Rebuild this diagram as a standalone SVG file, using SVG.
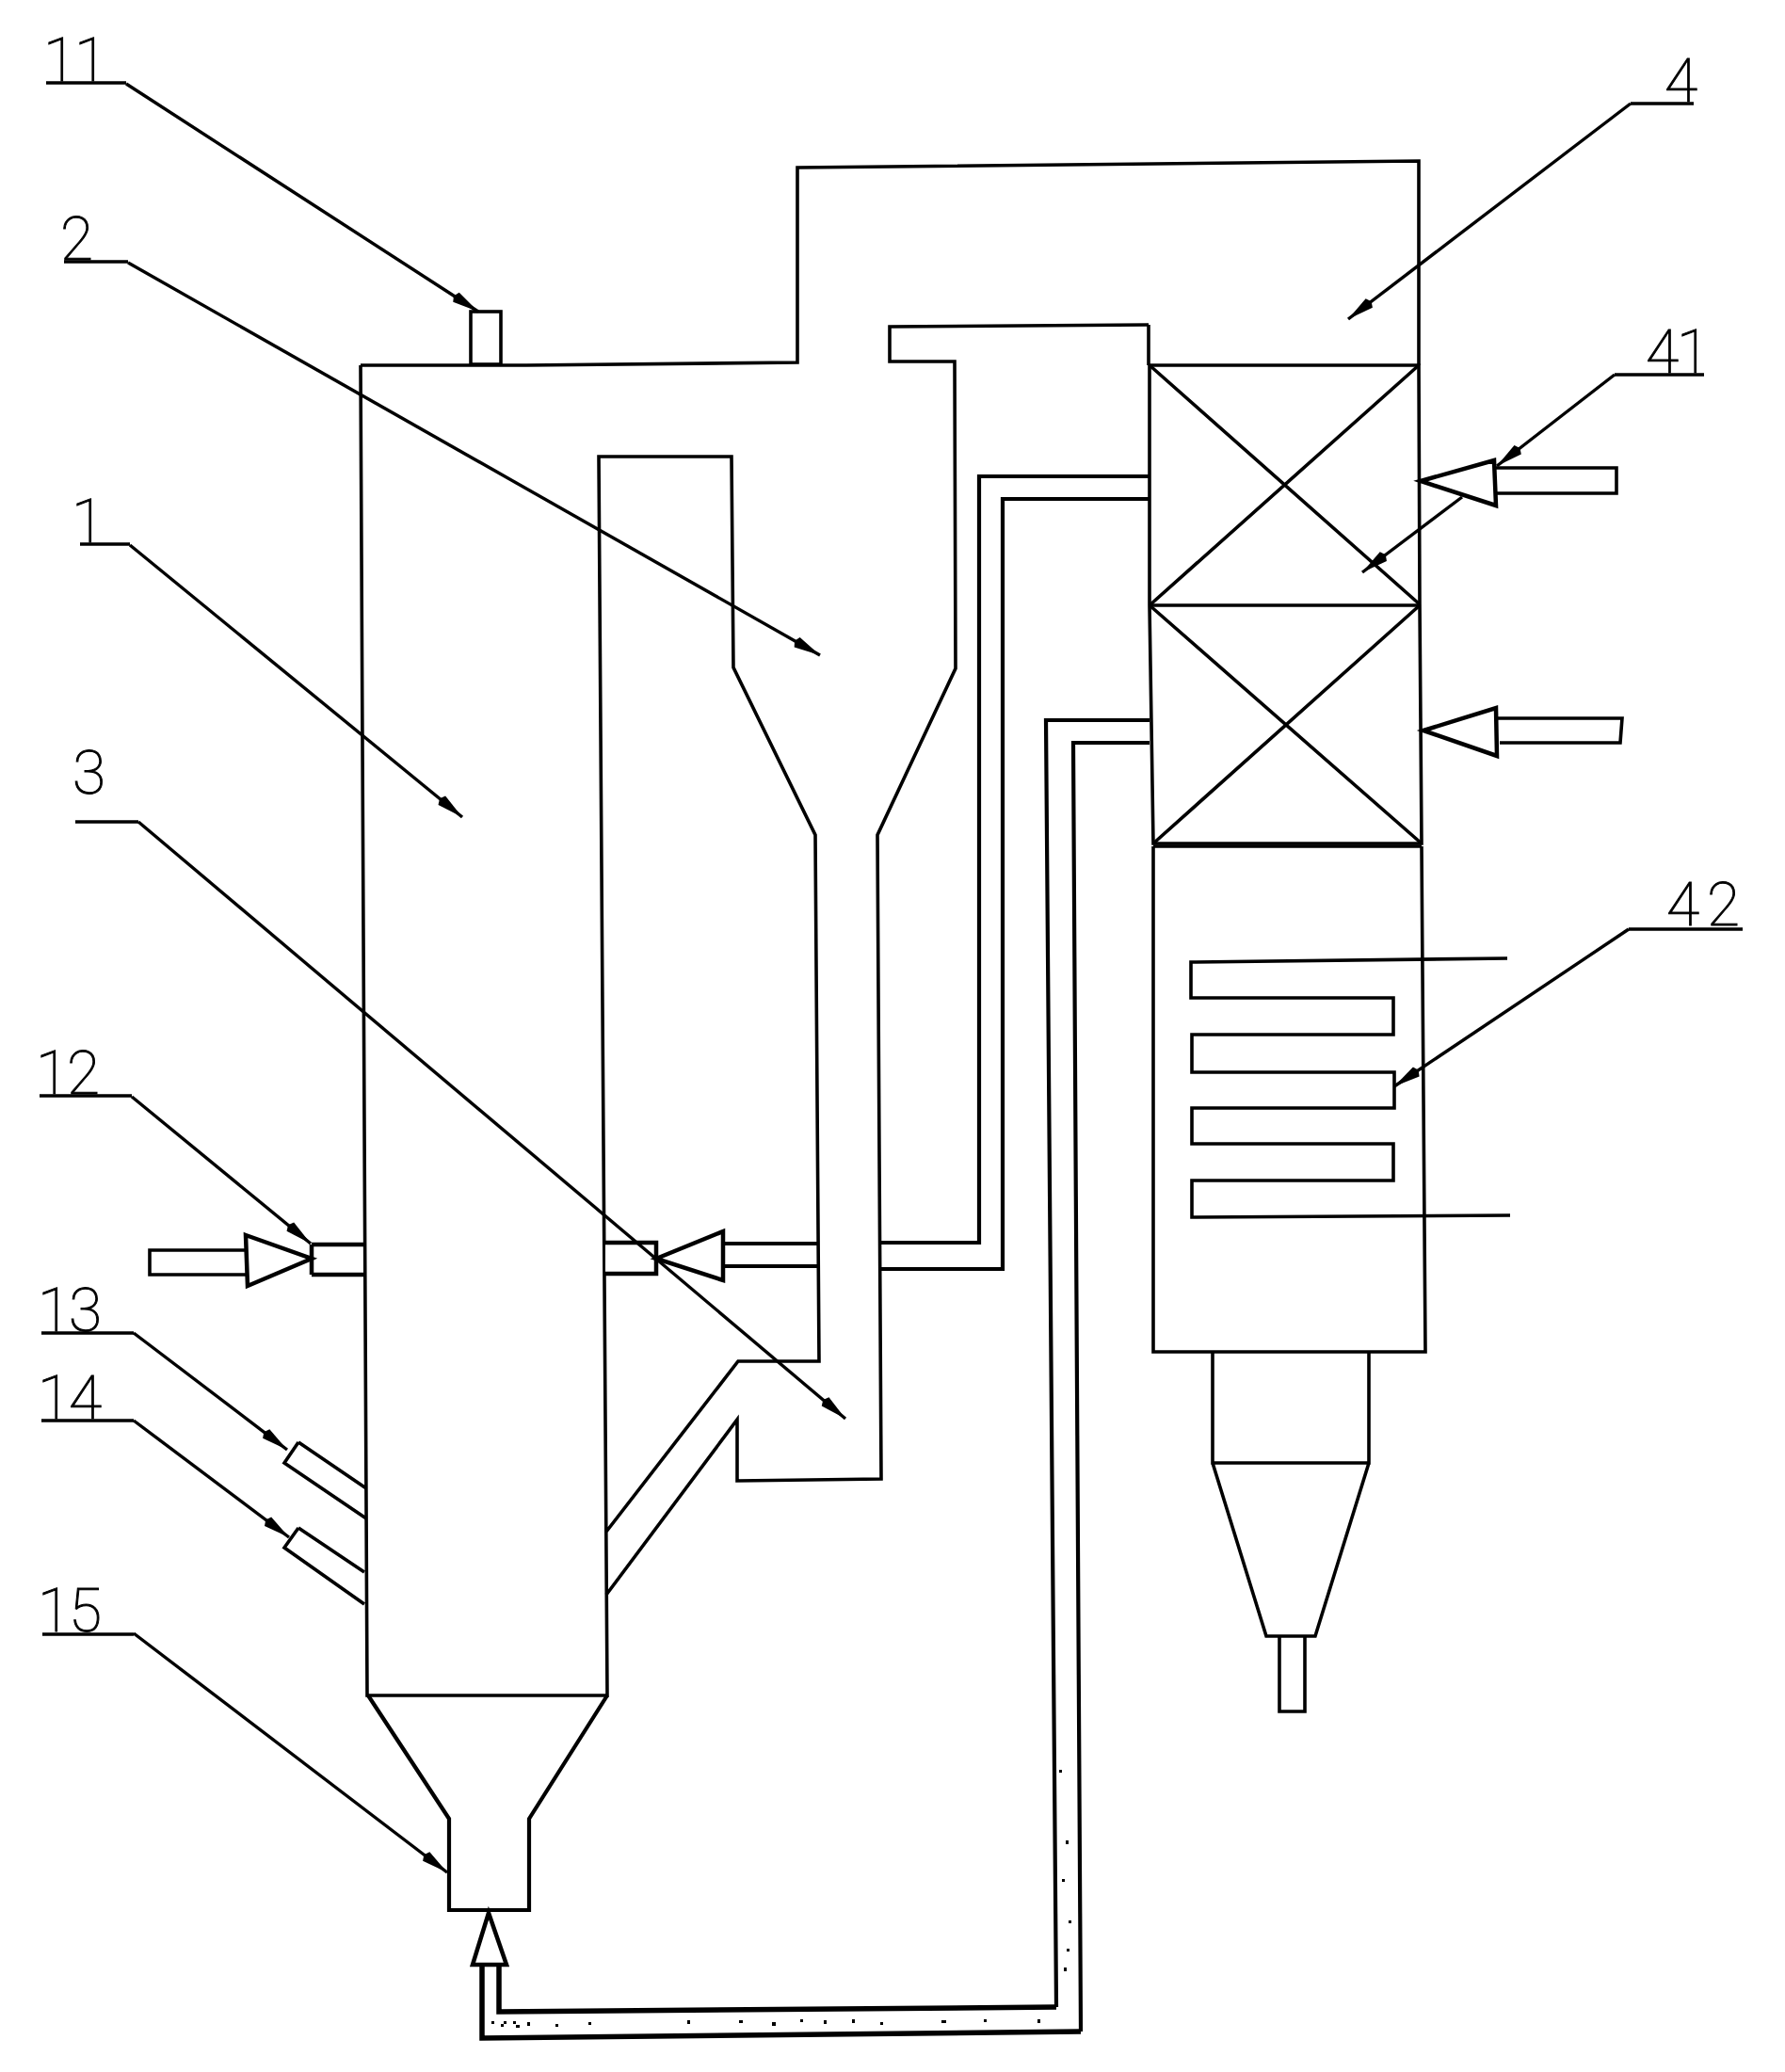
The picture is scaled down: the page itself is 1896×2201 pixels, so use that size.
<svg xmlns="http://www.w3.org/2000/svg" width="1896" height="2201" viewBox="0 0 1896 2201">
<style>
.s{fill:none;stroke:#000;stroke-width:3.6;stroke-linejoin:miter}
.a{fill:#fff;stroke:#000;stroke-width:4.5;stroke-linejoin:miter}
.t{fill:none;stroke:#000;stroke-width:4.2}
.b{fill:none;stroke:#000;stroke-width:5.5}
.l{fill:none;stroke:#000;stroke-width:3.4;marker-end:url(#h)}
.u{fill:none;stroke:#000;stroke-width:3.4}
text{font-family:Roboto,"Liberation Sans",sans-serif;font-weight:100;font-size:64px;fill:#000;stroke:#000;stroke-width:1;letter-spacing:-2px}
</style>
<defs>
<marker id="h" markerUnits="userSpaceOnUse" markerWidth="36" markerHeight="14" refX="34" refY="7" orient="auto" viewBox="0 0 36 14"><path d="M3 7L6 1L34 7L6 13Z" fill="#000"/></marker>
</defs>
<rect width="1896" height="2201" fill="#fff"/>
<g id="furnace">
<path class="s" d="M1220 345V388M383 388H559L847 385L847 178L1507 171L1507 388"/>
<path class="s" d="M383 388L390 1801H645L636 485H777L779 709L866 887L870 1446H784L644 1627"/>
<path class="s" d="M644 1694L783 1508V1573L936 1571L932 887L1015 710L1014 384H945V347L1220 345"/>
<path class="t" d="M391 1801L477 1932V2029H562V1932L645 1801"/>
<rect class="s" x="500" y="331" width="32" height="56"/>
</g>
<g id="heat-exchanger">
<path class="s" d="M1221 388H1507L1508 642L1510 896H1225L1221 643ZM1221 643H1508"/>
<path class="s" d="M1221 388L1508 642M1507 388L1221 643M1221 643L1510 896M1508 643L1225 896"/>
<path class="s" d="M1225 899V1436H1514L1510 899M1225 899H1510M1288 1436V1554H1454V1436M1288 1554L1345 1738H1397L1454 1554M1359 1738V1818H1386V1738"/>
<path class="s" d="M1601 1018L1265 1022V1060H1480V1099H1266V1139H1481V1177H1266V1215H1480V1254H1266V1293L1604 1291"/>
</g>
<g id="nozzles">
<path class="a" d="M331 1322H386M331 1354H386M331 1322V1354"/>
<path class="a" d="M643 1320H697V1353H643"/>
<path class="s" d="M317 1532L302 1554L389 1613M317 1532L389 1581M317 1623L302 1644L387 1704M317 1623L387 1670"/>
</g>
<g id="connectors">
<path class="t" d="M1220 506H1040V1320H936M1221 530H1065V1348H936M868 1321H769M868 1345H769"/>
<path class="t" d="M1221 765H1111L1122 2132M1221 789H1140L1148 2158"/>
<path class="b" d="M1122 2132L530 2137V2089M1148 2158L512 2165V2089"/>
<path class="s" d="M260 1328H159V1354H263M1589 497H1717V524H1589M1591 763H1723L1721 789H1593"/>
<path class="a" d="M261 1312L331 1337L263 1366ZM697 1337L768 1308V1360ZM1509 511L1587 489L1589 537ZM1512 776L1589 752L1590 803ZM519 2032L538 2087H502Z"/>
<path class="u" d="M49 88H134M68 278H136M85 578H138M42 1164H140M44 1416H142M44 1509H142M45 1736H142M80 873H147M1732 110H1799M1715 398H1810M1730 987H1851"/>
<path class="l" d="M134 89L508 331"/>
<path class="l" d="M136 279L871 696"/>
<path class="l" d="M138 579L491 868"/>
<path class="l" d="M147 873L898 1507"/>
<path class="l" d="M1732 110L1432 339"/>
<path class="l" d="M1715 398L1590 495"/>
<path class="l" d="M1553 528L1447 608"/>
<path class="l" d="M1730 987L1481 1154"/>
<path class="l" d="M140 1165L330 1321"/>
<path class="l" d="M142 1416L305 1540"/>
<path class="l" d="M142 1509L307 1633"/>
<path class="l" d="M142 1735L475 1989"/>
<path d="M522 2147h3v3h-3zM532 2150h3v3h-3zM545 2147h3v3h-3zM535 2147h3v3h-3zM548 2151h4v3h-4zM560 2148h3v4h-3zM590 2150h3v3h-3zM625 2148h3v3h-3zM730 2146h3v4h-3zM785 2146h4v3h-4zM820 2148h4v4h-4zM850 2145h3v3h-3zM875 2146h3v4h-3zM905 2145h3v4h-3zM935 2148h3v3h-3zM1000 2146h5v3h-5zM1045 2145h3v3h-3zM1102 2145h3v4h-3zM1125 1880h3v3h-3zM1132 1955h3v4h-3zM1128 1996h3v3h-3zM1135 2040h3v3h-3zM1130 2090h3v4h-3zM1133 2070h3v3h-3z" fill="#000"/>
</g>
<g id="labels">
<text x="46" y="86">11</text>
<text x="64" y="276">2</text>
<text x="76" y="576">1</text>
<text x="77" y="843">3</text>
<text x="38" y="1162">12</text>
<text x="40" y="1414">13</text>
<text x="40" y="1507">14</text>
<text x="40" y="1733">15</text>
<text x="1768" y="108">4</text>
<text x="1748" y="396">41</text>
<text x="1770" y="983" style="letter-spacing:8px">42</text>
</g>
</svg>
